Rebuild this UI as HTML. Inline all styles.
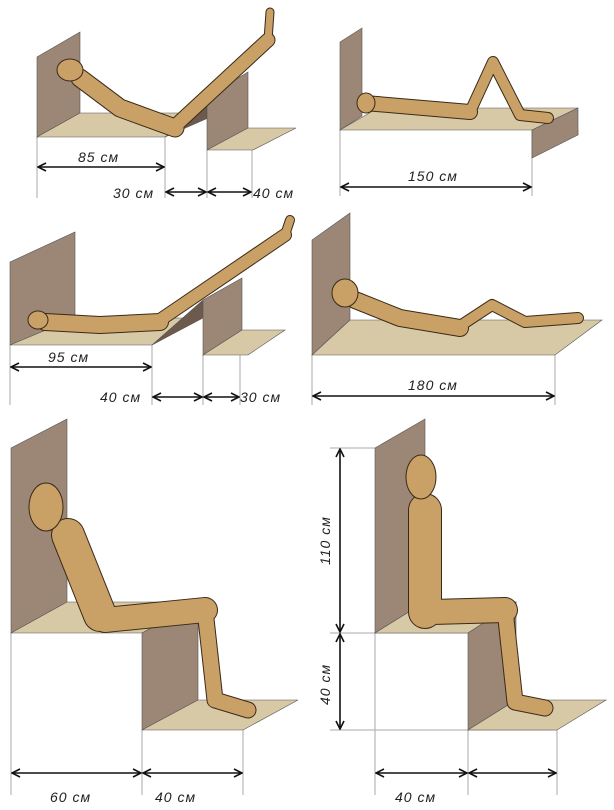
<!DOCTYPE html><html><head><style>body{margin:0;background:#fff}svg{display:block}text{font-family:"Liberation Sans",sans-serif;font-style:italic;font-size:14px;fill:#222;letter-spacing:1px}</style></head><body>
<svg width="614" height="810" viewBox="0 0 614 810" xmlns="http://www.w3.org/2000/svg">
<defs>
<marker id="a" markerWidth="10" markerHeight="10" refX="9" refY="5" orient="auto-start-reverse" markerUnits="userSpaceOnUse"><path d="M1 1L9 5L1 9" fill="none" stroke="#111" stroke-width="1.6"/></marker>
</defs>
<g stroke="#aaa" stroke-width="1" fill="none">
<path d="M37 137V198M165 137V198M207 150V198M252 150V198"/>
<path d="M340 130V196M532 130V196M578 135V130"/>
<path d="M10 345V405M152 345V405M203 355V405M240 355V405"/>
<path d="M312 355V405M555 355V405"/>
<path d="M11 633V795M142 730V795M243 730V795"/>
<path d="M375 633V795M468 730V795M557 730V795M330 448H375M330 633H468M330 730H557"/>
</g>
<g stroke="#555" stroke-width="0.6">
<polygon points="37,57 80,32 80,113 37,137" fill="#9c8676"/>
<polygon points="37,137 80,113 208,113 165,137" fill="#d8c9a6"/>
<polygon points="165,137 208,105 208,118" fill="#6e5a4c"/>
<polygon points="207,97 248,72 248,128 207,150" fill="#9c8676"/>
<polygon points="207,150 248,128 296,128 253,150" fill="#d8c9a6"/>
<polygon points="340,130 340,42 362,28 362,116" fill="#9c8676"/>
<polygon points="340,130 378,108 578,108 532,130" fill="#d8c9a6"/>
<polygon points="532,130 578,108 578,135 532,158" fill="#9c8676"/>
<polygon points="10,262 75,232 75,318 10,345" fill="#9c8676"/>
<polygon points="10,345 75,318 200,318 152,345" fill="#d8c9a6"/>
<polygon points="152,345 203,300 203,318" fill="#6e5a4c"/>
<polygon points="203,300 242,278 242,330 203,355" fill="#9c8676"/>
<polygon points="203,355 242,330 285,330 248,355" fill="#d8c9a6"/>
<polygon points="312,355 312,240 350,213 350,320" fill="#9c8676"/>
<polygon points="312,355 350,320 602,320 555,355" fill="#d8c9a6"/>
<polygon points="11,448 67,419 67,602 11,633" fill="#9c8676"/>
<polygon points="11,633 67,602 198,602 142,633" fill="#d8c9a6"/>
<polygon points="142,633 198,602 198,700 142,730" fill="#9c8676"/>
<polygon points="142,730 198,700 298,700 243,730" fill="#d8c9a6"/>
<polygon points="375,448 425,419 425,602 375,633" fill="#9c8676"/>
<polygon points="375,633 425,602 516,602 468,633" fill="#d8c9a6"/>
<polygon points="468,633 516,602 516,700 468,730" fill="#9c8676"/>
<polygon points="468,730 516,700 606,700 557,730" fill="#d8c9a6"/>
</g>
<g fill="none" stroke-linecap="round" stroke-linejoin="round">
<g stroke="#3a2a18">
<path d="M80,78 L120,108 L175,128" stroke-width="19"/><path d="M175,126 L268,40" stroke-width="15"/><path d="M268,40 L270,12" stroke-width="9"/>
<path d="M365,103 L470,112" stroke-width="16"/><path d="M470,112 L493,62 L520,115 L548,118" stroke-width="12"/>
<path d="M45,322 L100,325 L160,322" stroke-width="18"/><path d="M160,320 L285,235" stroke-width="14"/><path d="M285,235 L290,220" stroke-width="10"/>
<path d="M355,300 L400,318 L460,328" stroke-width="18"/><path d="M460,326 L492,305 L525,322 L578,318" stroke-width="12"/>
<path d="M68,535 L100,615" stroke-width="34"/><path d="M105,620 L205,610" stroke-width="26"/><path d="M205,610 L215,700 L248,710" stroke-width="17"/>
<path d="M425,510 L425,612" stroke-width="34"/><path d="M432,612 L505,610" stroke-width="26"/><path d="M505,610 L515,702 L545,708" stroke-width="17"/>
</g>
<g stroke="#c9a065">
<path d="M80,78 L120,108 L175,128" stroke-width="17"/><path d="M175,126 L268,40" stroke-width="13"/><path d="M268,40 L270,12" stroke-width="7"/>
<path d="M365,103 L470,112" stroke-width="14"/><path d="M470,112 L493,62 L520,115 L548,118" stroke-width="10"/>
<path d="M45,322 L100,325 L160,322" stroke-width="16"/><path d="M160,320 L285,235" stroke-width="12"/><path d="M285,235 L290,220" stroke-width="8"/>
<path d="M355,300 L400,318 L460,328" stroke-width="16"/><path d="M460,326 L492,305 L525,322 L578,318" stroke-width="10"/>
<path d="M68,535 L100,615" stroke-width="32"/><path d="M105,620 L205,610" stroke-width="24"/><path d="M205,610 L215,700 L248,710" stroke-width="15"/>
<path d="M425,510 L425,612" stroke-width="32"/><path d="M432,612 L505,610" stroke-width="24"/><path d="M505,610 L515,702 L545,708" stroke-width="15"/>
</g>
<g fill="#c9a065" stroke="#3a2a18" stroke-width="1">
<ellipse cx="70" cy="70" rx="13" ry="11"/><ellipse cx="366" cy="103" rx="9" ry="10"/>
<ellipse cx="38" cy="320" rx="10" ry="9"/><ellipse cx="345" cy="293" rx="13" ry="14"/>
<ellipse cx="46" cy="507" rx="17" ry="24"/><ellipse cx="421" cy="477" rx="15" ry="22"/>
</g>
</g>
<g stroke="#111" stroke-width="1.6" fill="none" marker-start="url(#a)" marker-end="url(#a)">
<path d="M38 167H164"/><path d="M166 192H206"/><path d="M208 192H251"/>
<path d="M341 187H531"/>
<path d="M11 367H151"/><path d="M153 397H202"/><path d="M204 397H239"/>
<path d="M313 396H554"/>
<path d="M12 773H141"/><path d="M143 773H242"/>
<path d="M376 773H467"/><path d="M469 773H556"/>
<path d="M340 449V632"/><path d="M340 634V729"/>
</g>
<text x="78" y="162">85 см</text><text x="113" y="198">30 см</text><text x="253" y="198">40 см</text>
<text x="408" y="181">150 см</text>
<text x="48" y="362">95 см</text><text x="100" y="402">40 см</text><text x="240" y="402">30 см</text>
<text x="408" y="390">180 см</text>
<text x="50" y="802">60 см</text><text x="155" y="802">40 см</text><text x="395" y="802">40 см</text>
<text transform="translate(330,565) rotate(-90)">110 см</text>
<text transform="translate(330,705) rotate(-90)">40 см</text>
</svg>
</body></html>
